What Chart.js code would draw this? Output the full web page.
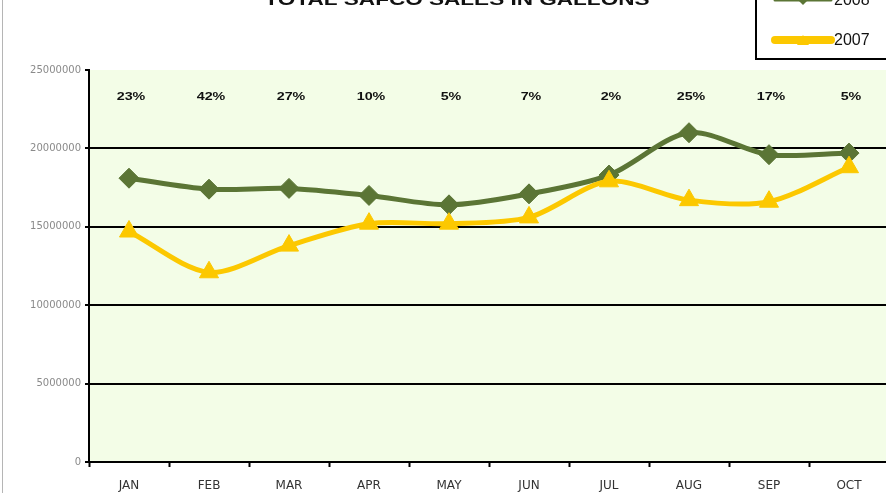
<!DOCTYPE html>
<html>
<head>
<meta charset="utf-8">
<script src="https://cdn.jsdelivr.net/npm/chart.js@4/dist/chart.umd.min.js"></script>
<style>
  html, body { margin: 0; padding: 0; background: #ffffff; overflow: hidden; width: 886px; height: 493px; }
  #wrap { position: absolute; left: 0; top: 0; width: 920px; height: 505px; }
  #edge { position: absolute; left: 2px; top: 0; width: 1px; height: 493px; background: #b5b5b5; }
</style>
</head>
<body>
<div id="wrap"><canvas id="c" width="901" height="505"></canvas></div>
<div id="edge"></div>
<script>
const months = ['JAN','FEB','MAR','APR','MAY','JUN','JUL','AUG','SEP','OCT'];
const sales2008 = [18100000, 17400000, 17450000, 17000000, 16400000, 17100000, 18300000, 21000000, 19600000, 19700000];
const sales2007 = [14700000, 12100000, 13800000, 15200000, 15200000, 15600000, 17900000, 16700000, 16600000, 18800000];
const growthLabels = ['23%','42%','27%','10%','5%','7%','2%','25%','17%','5%'];
const yTicks = [0, 5000000, 10000000, 15000000, 20000000, 25000000];
const chartTitle = 'TOTAL SAFCO SALES IN GALLONS';
const seriesNames = ['2008', '2007'];

const GREEN = '#5b7535';
const YELLOW = '#fcc800';
const PLOT_BG = '#f3fde7';

const decorPlugin = {
  id: 'decor',
  beforeDraw(chart) {
    const {ctx, chartArea: a} = chart;
    ctx.save();
    ctx.fillStyle = PLOT_BG;
    ctx.fillRect(a.left, a.top, a.right - a.left, a.bottom - a.top);
    ctx.restore();
  },
  afterDatasetsDraw(chart) {
    const {ctx, chartArea: a, scales} = chart;
    const xs = scales.x;
    ctx.save();
    ctx.fillStyle = '#111';
    ctx.font = 'bold 11px "Liberation Sans", Arial, sans-serif';
    ctx.textAlign = 'center';
    ctx.textBaseline = 'middle';
    growthLabels.forEach((t, i) => {
      const x = xs.getPixelForValue(i);
      ctx.save();
      ctx.translate(x + 2, a.top + 27);
      ctx.scale(1.3, 1);
      ctx.fillText(t, 0, 0);
      ctx.restore();
    });
    ctx.restore();
  },
  afterDraw(chart) {
    const {ctx} = chart;
    ctx.save();
    ctx.fillStyle = '#111';
    ctx.font = 'bold 17px "Liberation Sans", Arial, sans-serif';
    const w = ctx.measureText(chartTitle).width;
    const targetW = 385;
    ctx.translate(457, 5);
    ctx.scale(targetW / w, 1);
    ctx.textAlign = 'center';
    ctx.textBaseline = 'alphabetic';
    ctx.fillText(chartTitle, 0, 0);
    ctx.restore();

    ctx.save();
    ctx.fillStyle = '#ffffff';
    ctx.fillRect(756, -10, 160, 69);
    ctx.strokeStyle = '#000';
    ctx.lineWidth = 2;
    ctx.strokeRect(756, -10, 160, 69);
    const ds = chart.data.datasets;
    const rows = [{y: 0, d: ds[1]}, {y: 40, d: ds[0]}];
    rows.forEach(r => {
      ctx.strokeStyle = r.d.borderColor;
      ctx.lineWidth = r.d.label === '2007' ? 8 : 3;
      ctx.lineCap = 'round';
      ctx.beginPath();
      ctx.moveTo(775, r.y);
      ctx.lineTo(831, r.y);
      ctx.stroke();
      ctx.fillStyle = r.d.borderColor;
      ctx.beginPath();
      if (r.d.label === '2007') {
        ctx.moveTo(803, r.y - 5); ctx.lineTo(809, r.y + 5); ctx.lineTo(797, r.y + 5);
      } else {
        ctx.moveTo(803, r.y - 5); ctx.lineTo(808, r.y); ctx.lineTo(803, r.y + 5); ctx.lineTo(798, r.y);
      }
      ctx.closePath();
      ctx.fill();
      ctx.fillStyle = '#111';
      ctx.font = '16px "Liberation Sans", Arial, sans-serif';
      ctx.textAlign = 'left';
      ctx.textBaseline = 'middle';
      ctx.fillText(r.d.label, 834, r.y + 1);
    });
    ctx.restore();
  }
};

const chart = new Chart(document.getElementById('c'), {
  type: 'line',
  data: {
    labels: months,
    datasets: [
      {
        label: seriesNames[1],
        data: sales2007,
        borderColor: YELLOW,
        backgroundColor: YELLOW,
        borderWidth: 5,
        tension: 0.3,
        pointStyle: 'triangle',
        pointRadius: 11,
        pointBorderWidth: 1,
        order: 0
      },
      {
        label: seriesNames[0],
        data: sales2008,
        borderColor: GREEN,
        backgroundColor: GREEN,
        borderWidth: 5,
        tension: 0.3,
        pointStyle: 'rectRot',
        pointRadius: 10,
        pointBorderWidth: 1,
        order: 1
      }
    ]
  },
  options: {
    responsive: false,
    animation: false,
    devicePixelRatio: 1,
    layout: { padding: { top: 70, right: 0, left: 0, bottom: 0 } },
    plugins: {
      legend: { display: false },
      title: { display: false },
      tooltip: { enabled: false }
    },
    scales: {
      x: {
        offset: true,
        grid: {
          offset: true,
          drawOnChartArea: false,
          drawTicks: true,
          tickLength: 5,
          tickWidth: 2,
          tickColor: '#000'
        },
        border: { display: true, color: '#000', width: 2 },
        ticks: {
          color: '#333',
          padding: 12,
          font: { family: '"DejaVu Sans", sans-serif', size: 12 }
        },
        afterFit(scale) { scale.height = 43; scale.paddingLeft = 0; scale.paddingRight = 0; }
      },
      y: {
        min: 0,
        max: 25000000,
        afterBuildTicks(scale) { scale.ticks = yTicks.map(v => ({value: v})); },
        grid: {
          color: c => (c.tick && c.tick.value === 25000000) ? 'rgba(0,0,0,0)' : '#000',
          tickColor: '#000',
          lineWidth: 2,
          drawTicks: true,
          tickLength: 4
        },
        border: { display: true, color: '#000', width: 2 },
        ticks: {
          color: '#8a8a8a',
          padding: 4,
          font: { family: '"DejaVu Sans", sans-serif', size: 10 },
          callback: v => String(v)
        },
        afterFit(scale) { scale.width = 89; scale.paddingTop = 0; scale.paddingBottom = 0; }
      }
    }
  },
  plugins: [decorPlugin]
});
// keep the plot's right edge where the reference has it (x = 889)
const diffR = chart.chartArea.right - 889;
if (diffR !== 0) {
  chart.resize(chart.width - diffR, chart.height);
}
</script>
</body>
</html>
